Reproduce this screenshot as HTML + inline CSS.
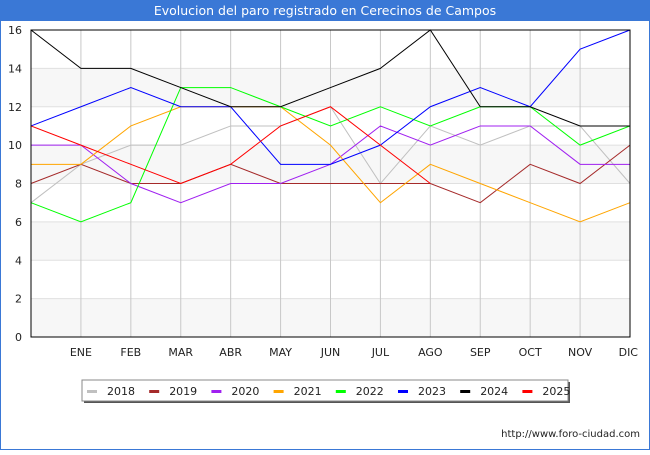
<!DOCTYPE html>
<html><head><meta charset="utf-8"><style>
body{margin:0;width:650px;height:450px;overflow:hidden;font-family:"Liberation Sans","DejaVu Sans",sans-serif;background:#fff}
</style></head><body>
<svg id="chart" width="650" height="450" xmlns="http://www.w3.org/2000/svg" font-family="DejaVu Sans, Liberation Sans, sans-serif">
<rect x="0.5" y="0.5" width="649" height="449" fill="#fff" stroke="#3a78d6"/>
<rect x="0" y="0" width="650" height="21" fill="#3a78d6"/>
<text x="325" y="15" text-anchor="middle" fill="#fff" font-size="12.5">Evolucion del paro registrado en Cerecinos de Campos</text>
<g id="bands"></g><g id="grid"></g><g id="series"></g><g id="axes"></g>
<g>
<rect x="84" y="382" width="486" height="21" fill="#555"/>
<rect x="82" y="380" width="486" height="21" fill="#fff" stroke="#888"/>
<g id="legend-items"></g>
</g>
<text x="640" y="437" text-anchor="end" font-size="10" fill="#222">http://www.foro-ciudad.com</text>
</svg>
<script>
const months=["","ENE","FEB","MAR","ABR","MAY","JUN","JUL","AGO","SEP","OCT","NOV","DIC"];
const yTicks=[0,2,4,6,8,10,12,14,16];
const years=["2018","2019","2020","2021","2022","2023","2024","2025"];
const colors=["#c0c0c0","#a52a2a","#a020f0","#ffa500","#00ff00","#0000ff","#000000","#ff0000"];
const s2018=[7,9,10,10,11,11,12,8,11,10,11,11,8];
const s2019=[8,9,8,8,9,8,8,8,8,7,9,8,10];
const s2020=[10,10,8,7,8,8,9,11,10,11,11,9,9];
const s2021=[9,9,11,12,12,12,10,7,9,8,7,6,7];
const s2022=[7,6,7,13,13,12,11,12,11,12,12,10,11];
const s2023=[11,12,13,12,12,9,9,10,12,13,12,15,16];
const s2024=[16,14,14,13,12,12,13,14,16,12,12,11,11];
const s2025=[11,10,9,8,9,11,12,10,8];
const allSeries=[s2018,s2019,s2020,s2021,s2022,s2023,s2024,s2025];
const X0=31,X1=630,Y0=337,Y1=30,YMAX=16;
const xs=i=>X0+i*(X1-X0)/(months.length-1);
const ys=v=>Y0-v*(Y0-Y1)/YMAX;
const NS="http://www.w3.org/2000/svg";
function mk(tag,attrs,parent){const e=document.createElementNS(NS,tag);for(const k in attrs)e.setAttribute(k,attrs[k]);document.getElementById(parent).appendChild(e);return e;}
for(let i=0;i<yTicks.length-1;i+=2){
 const r=mk("rect",{x:X0,y:ys(yTicks[i+1]),width:X1-X0,height:ys(yTicks[i])-ys(yTicks[i+1]),fill:"#f7f7f7"},"bands");
 
 
}
yTicks.forEach(t=>{
 const l=mk("line",{x1:X0,x2:X1,y1:ys(t),y2:ys(t),stroke:"#e0e0e0"},"grid");
 
 
 const tx=mk("text",{x:X0-9,y:ys(t)+4,"text-anchor":"end","font-size":"11",fill:"#222"},"axes");
 tx.textContent=t;
 
 
});
months.forEach((m,i)=>{
 if(i===0)return;
 const l=mk("line",{x1:xs(i),x2:xs(i),y1:Y1,y2:Y0,stroke:"#c8c8c8"},"grid");
 
 
 const tx=mk("text",{x:xs(i),y:356,"text-anchor":i===12?"end":"middle","font-size":"11",fill:"#222"},"axes");
 if(i===12)tx.setAttribute("x",xs(i)+8);
 tx.textContent=m;
 
 
});
allSeries.forEach((s,k)=>{
 const p=mk("polyline",{points:s.map((v,i)=>xs(i)+","+ys(v)).join(" "),fill:"none",stroke:colors[k],"stroke-width":"1"},"series");
 
 
});
const ax=mk("rect",{x:X0,y:Y1,width:X1-X0,height:Y0-Y1,fill:"none",stroke:"#000"},"axes");


years.forEach((y,k)=>{
 const bx=87+k*62.2;
 const sw=mk("rect",{x:bx,y:390,width:10,height:3,fill:colors[k]},"legend-items");
 
 
 const t=mk("text",{x:bx+20,y:395,"font-size":"11",fill:"#222"},"legend-items");
 t.textContent=y;
 
 
});
</script>
</body></html>
